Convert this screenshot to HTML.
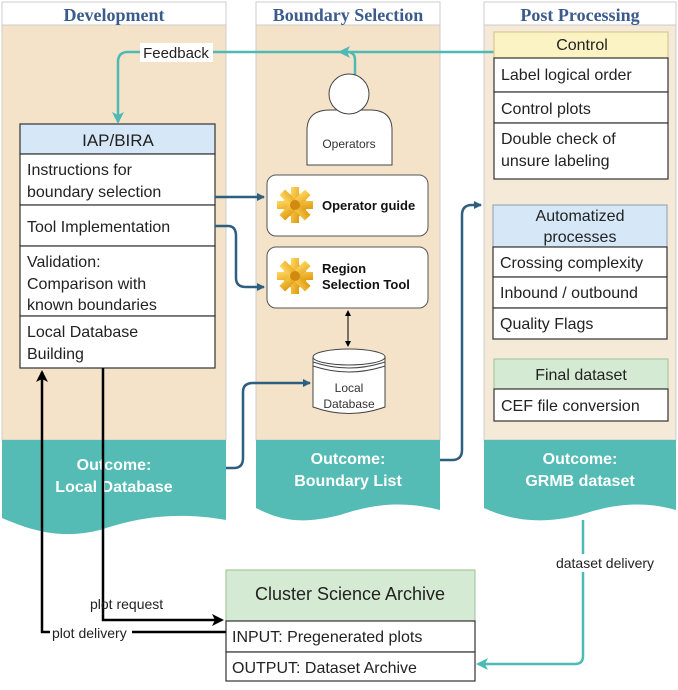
<!DOCTYPE html>
<html><head><meta charset="utf-8"><style>
body{margin:0;width:678px;height:685px;background:#fff;overflow:hidden}
svg text{font-family:"Liberation Sans",sans-serif}
</style></head><body>
<svg width="678" height="685" viewBox="0 0 678 685" xmlns="http://www.w3.org/2000/svg">
<defs>
<marker id="ab" markerWidth="8" markerHeight="8" refX="7" refY="4" orient="auto" markerUnits="userSpaceOnUse"><path d="M0,0 L8,4 L0,8 Z" fill="#2e5e80"/></marker>
<marker id="at" markerWidth="12" markerHeight="12" refX="10" refY="6" orient="auto" markerUnits="userSpaceOnUse"><path d="M0,0 L12,6 L0,12 L3,6 Z" fill="#4fbab4"/></marker>
<marker id="ak" markerWidth="12" markerHeight="12" refX="10" refY="6" orient="auto" markerUnits="userSpaceOnUse"><path d="M0,0 L12,6 L0,12 L3,6 Z" fill="#000"/></marker>
<marker id="as" markerWidth="6" markerHeight="6" refX="5" refY="3" orient="auto-start-reverse" markerUnits="userSpaceOnUse"><path d="M0,0 L6,3 L0,6 Z" fill="#000"/></marker>
<linearGradient id="g" x1="0" y1="0" x2="1" y2="1"><stop offset="0" stop-color="#ffd860"/><stop offset="1" stop-color="#e09a10"/></linearGradient>
</defs>
<rect x="2" y="2" width="224" height="23" fill="#fff" stroke="#ccc"/>
<rect x="2" y="25" width="224" height="415" fill="#f5e3c9" stroke="#ccc"/>
<rect x="256" y="2" width="184" height="23" fill="#fff" stroke="#ccc"/>
<rect x="256" y="25" width="184" height="415" fill="#f5e3c9" stroke="#ccc"/>
<rect x="484" y="2" width="192" height="23" fill="#fff" stroke="#ccc"/>
<rect x="484" y="25" width="192" height="415" fill="#f5ead7" stroke="#ccc"/>
<g font-weight="bold" font-size="18" fill="#3b5b8c" text-anchor="middle">
<text x="114" y="21" style="font-family:'Liberation Serif',serif">Development</text>
<text x="348" y="21" style="font-family:'Liberation Serif',serif">Boundary Selection</text>
<text x="580" y="21" style="font-family:'Liberation Serif',serif">Post Processing</text>
</g>
<path d="M2,440 H226 V520 C170,510 130,520 100,530 C60,540 30,530 2,518 Z" fill="#55bbb5"/>
<path d="M256,440 H440 V510 C400,500 370,505 340,515 C300,525 280,520 256,508 Z" fill="#55bbb5"/>
<path d="M484,440 H676 V510 C640,500 610,505 580,515 C540,525 510,520 484,508 Z" fill="#55bbb5"/>
<g fill="#fff" font-weight="bold" font-size="16" text-anchor="middle">
<text x="114" y="470">Outcome:</text><text x="114" y="492">Local Database</text>
<text x="348" y="464">Outcome:</text><text x="348" y="486">Boundary List</text>
<text x="580" y="464">Outcome:</text><text x="580" y="486">GRMB dataset</text>
</g>
<g stroke="#333" stroke-width="1.2">
<rect x="20" y="124" width="195" height="30" fill="#d6e7f7"/>
<rect x="20" y="154" width="195" height="51" fill="#fff"/>
<rect x="20" y="205" width="195" height="41" fill="#fff"/>
<rect x="20" y="246" width="195" height="70" fill="#fff"/>
<rect x="20" y="316" width="195" height="52" fill="#fff"/>
</g>
<g font-size="16" fill="#222">
<text x="118" y="146" text-anchor="middle" font-size="17">IAP/BIRA</text>
<text x="27" y="175">Instructions for</text><text x="27" y="197">boundary selection</text>
<text x="27" y="232">Tool Implementation</text>
<text x="27" y="267">Validation:</text><text x="27" y="289">Comparison with</text><text x="27" y="310">known boundaries</text>
<text x="27" y="337">Local Database</text><text x="27" y="359">Building</text>
</g>
<path d="M505,52 H128 Q118,52 118,62 V122" fill="none" stroke="#4fbab4" stroke-width="2.5" marker-end="url(#at)"/>
<path d="M355,76 V60 Q355,52 347,52 H340" fill="none" stroke="#4fbab4" stroke-width="2.5" marker-end="url(#at)"/>
<rect x="140" y="43" width="73" height="19" fill="#fff"/>
<text x="176" y="58" text-anchor="middle" font-size="15" fill="#222">Feedback</text>
<path d="M307,165 V130 Q307,110 330,110 H370 Q392,110 392,130 V165 Z" fill="#fff" stroke="#444"/>
<circle cx="349" cy="94" r="20" fill="#fff" stroke="#444"/>
<text x="349" y="148" text-anchor="middle" font-size="12" fill="#333">Operators</text>
<rect x="267" y="175" width="161" height="61" rx="9" fill="#fff" stroke="#555"/>
<rect x="267" y="247" width="161" height="61" rx="9" fill="#fff" stroke="#555"/>
<g fill="url(#g)">
<g transform="translate(295,205)"><circle r="12"/><rect x="-4" y="-18" width="8" height="36"/><rect x="-18" y="-4" width="36" height="8"/><rect x="-4" y="-18" width="8" height="36" transform="rotate(45)"/><rect x="-4" y="-18" width="8" height="36" transform="rotate(-45)"/><circle r="5" fill="#d08a10"/></g>
<g transform="translate(295,276)"><circle r="12"/><rect x="-4" y="-18" width="8" height="36"/><rect x="-18" y="-4" width="36" height="8"/><rect x="-4" y="-18" width="8" height="36" transform="rotate(45)"/><rect x="-4" y="-18" width="8" height="36" transform="rotate(-45)"/><circle r="5" fill="#d08a10"/></g>
</g>
<g font-weight="bold" font-size="13" fill="#111">
<text x="322" y="210">Operator guide</text>
<text x="322" y="273">Region</text><text x="322" y="289">Selection Tool</text>
</g>
<line x1="348" y1="311" x2="348" y2="346" stroke="#000" marker-end="url(#as)" marker-start="url(#as)"/>
<path d="M313,357 V407 Q349,420 385,407 V357" fill="#fff" stroke="#444"/>
<ellipse cx="349" cy="357" rx="36" ry="8" fill="#fff" stroke="#444"/>
<path d="M313,362 Q349,374 385,362 M313,366 Q349,378 385,366" fill="none" stroke="#444"/>
<text x="349" y="392" text-anchor="middle" font-size="12" fill="#333">Local</text>
<text x="349" y="408" text-anchor="middle" font-size="12" fill="#333">Database</text>
<g fill="none" stroke="#2e5e80" stroke-width="2.5">
<path d="M215,197 H264" marker-end="url(#ab)"/>
<path d="M215,226 H228 Q236,226 236,236 V278 Q236,287 246,287 H264" marker-end="url(#ab)"/>
<path d="M226,468 H234 Q243,468 243,458 V392 Q243,383 253,383 H310" marker-end="url(#ab)"/>
<path d="M440,460 H452 Q462,460 462,450 V215 Q462,205 472,205 H481" marker-end="url(#ab)"/>
</g>
<g stroke="#333" stroke-width="1.2">
<rect x="494" y="32" width="174" height="26" fill="#fbf3c4" stroke="#d8c890"/>
<rect x="494" y="58" width="174" height="34" fill="#fff"/>
<rect x="494" y="92" width="174" height="31" fill="#fff"/>
<rect x="494" y="123" width="174" height="56" fill="#fff"/>
<rect x="493" y="205" width="174" height="42" fill="#d6e7f7" stroke="#9ab"/>
<rect x="493" y="247" width="174" height="30" fill="#fff"/>
<rect x="493" y="277" width="174" height="31" fill="#fff"/>
<rect x="493" y="308" width="174" height="31" fill="#fff"/>
<rect x="494" y="359" width="174" height="30" fill="#d5ead3" stroke="#a8c8a0"/>
<rect x="494" y="389" width="174" height="32" fill="#fff"/>
</g>
<g font-size="16" fill="#222">
<text x="582" y="50" text-anchor="middle">Control</text>
<text x="501" y="80">Label logical order</text>
<text x="501" y="114">Control plots</text>
<text x="501" y="144">Double check of</text><text x="501" y="166">unsure labeling</text>
<text x="580" y="221" text-anchor="middle">Automatized</text><text x="580" y="242" text-anchor="middle">processes</text>
<text x="500" y="268">Crossing complexity</text>
<text x="500" y="298">Inbound / outbound</text>
<text x="500" y="329">Quality Flags</text>
<text x="581" y="380" text-anchor="middle">Final dataset</text>
<text x="501" y="411">CEF file conversion</text>
</g>
<g stroke="#333" stroke-width="1.2">
<rect x="226" y="570" width="249" height="51" fill="#d5ead3" stroke="#a8c8a0"/>
<rect x="226" y="621" width="249" height="31" fill="#fff"/>
<rect x="226" y="652" width="249" height="29" fill="#fff"/>
</g>
<g font-size="16" fill="#222">
<text x="350" y="600" text-anchor="middle" font-size="18">Cluster Science Archive</text>
<text x="232" y="642">INPUT: Pregenerated  plots</text>
<text x="232" y="673">OUTPUT: Dataset Archive</text>
</g>
<g fill="none" stroke="#000" stroke-width="2.5">
<path d="M226,632 H42 V372" marker-end="url(#ak)"/>
<path d="M103,368 V620 H222" marker-end="url(#ak)"/>
</g>
<rect x="50" y="625" width="82" height="16" fill="#fff"/>
<text x="52" y="638" font-size="14" fill="#222">plot delivery</text>
<text x="90" y="609" font-size="14" fill="#222">plot request</text>
<path d="M583,520 V656 Q583,664 575,664 H478" fill="none" stroke="#4fbab4" stroke-width="2.5" marker-end="url(#at)"/>
<rect x="546" y="554" width="118" height="18" fill="#fff"/>
<text x="605" y="568" text-anchor="middle" font-size="14" fill="#222">dataset delivery</text>
</svg>
</body></html>
